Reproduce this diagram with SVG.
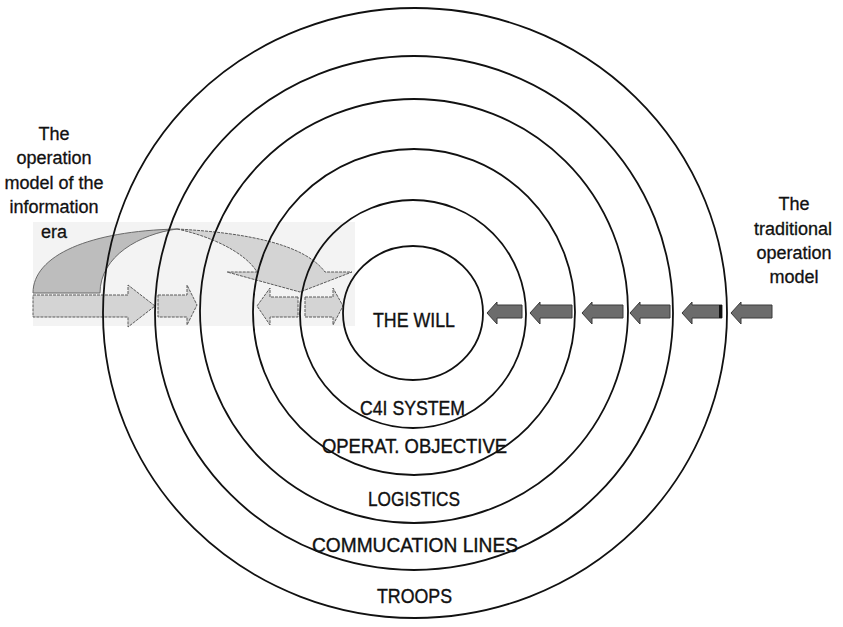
<svg xmlns="http://www.w3.org/2000/svg" width="843" height="627" viewBox="0 0 843 627">
<defs>
<style>
.ring{fill:none;stroke:#111;stroke-width:1.8}
.lbl{font-family:"Liberation Sans",Arial,sans-serif;font-size:21px;fill:#111;stroke:#111;stroke-width:0.4;text-anchor:middle}
.side{font-family:"Liberation Sans",Arial,sans-serif;font-size:18px;fill:#111;stroke:#111;stroke-width:0.3;text-anchor:middle}
.light{fill:#d4d4d4;stroke:#5a5a5a;stroke-width:1;stroke-dasharray:3 1}
.dark{fill:#6c6c6c;stroke:#3a3a3a;stroke-width:1}
.arch{fill:#bdbdbd;stroke:#6a6a6a;stroke-width:1}
</style>
</defs>
<rect width="843" height="627" fill="#fff"/>
<rect x="33" y="222" width="322" height="104" fill="#f3f3f3"/>
<g id="connectors">
<path class="arch" d="M33,293 C33,255 90,231 177,229 C140,234 100,256 100,293 Z"/>
<path class="light" d="M177,229 C250,233 305,245 325,272 L352,272 L300,292 L227,272 L257,272 C245,252 210,236 177,229 Z"/>
<path class="light" d="M33,295 L128,295 L128,285 L155,306 L128,327 L128,317 L33,317 Z"/>
<path class="light" d="M158,295 L187,295 L187,285 L197,305 L187,325 L187,317 L158,317 Z"/>
<path class="light" d="M298,297 L270,297 L270,288 L257,306 L270,325 L270,317 L298,317 Z"/>
<path class="light" d="M305,297 L333,297 L333,288 L343,306 L333,325 L333,317 L305,317 Z"/>
<path class="dark" d="M522,305 L497,305 L497,302 L487,313 L497,324 L497,318 L522,318 Z"/>
<path class="dark" d="M572,305 L540,305 L540,302 L530,313 L540,324 L540,318 L572,318 Z"/>
<path class="dark" d="M623,305 L592,305 L592,302 L582,313 L592,324 L592,318 L623,318 Z"/>
<path class="dark" d="M670,305 L640,305 L640,302 L630,313 L640,324 L640,318 L670,318 Z"/>
<path class="dark" d="M722,305 L692,305 L692,302 L682,313 L692,324 L692,318 L722,318 Z"/>
<rect x="719" y="305" width="3" height="13" fill="#111"/>
<path class="dark" d="M772,305 L741,305 L741,302 L731,313 L741,324 L741,318 L772,318 Z"/>
</g>
<g id="troops"><ellipse class="ring" cx="415" cy="313" rx="312" ry="305"/><text class="lbl" x="414.5" y="603" textLength="75" lengthAdjust="spacingAndGlyphs">TROOPS</text></g>
<g id="communication-lines"><ellipse class="ring" cx="414" cy="313" rx="259" ry="257"/><text class="lbl" x="415" y="552" textLength="206" lengthAdjust="spacingAndGlyphs">COMMUCATION LINES</text></g>
<g id="logistics"><ellipse class="ring" cx="414" cy="311" rx="214" ry="212"/><text class="lbl" x="414" y="506" textLength="92" lengthAdjust="spacingAndGlyphs">LOGISTICS</text></g>
<g id="operat-objective"><ellipse class="ring" cx="414" cy="312" rx="161" ry="163"/><text class="lbl" x="414.5" y="453" textLength="185" lengthAdjust="spacingAndGlyphs">OPERAT. OBJECTIVE</text></g>
<g id="c4i-system"><ellipse class="ring" cx="413" cy="314" rx="113" ry="114"/><text class="lbl" x="412.5" y="415" textLength="105" lengthAdjust="spacingAndGlyphs">C4I SYSTEM</text></g>
<g id="the-will"><ellipse class="ring" cx="413" cy="313" rx="70" ry="67"/><text class="lbl" x="414" y="327" textLength="82" lengthAdjust="spacingAndGlyphs">THE WILL</text></g>
<g id="info-era-label">
<text class="side" x="54" y="140">The</text>
<text class="side" x="54" y="164">operation</text>
<text class="side" x="54" y="189">model of the</text>
<text class="side" x="54" y="213">information</text>
<text class="side" x="54" y="238">era</text>
</g>
<g id="traditional-label">
<text class="side" x="794" y="210">The</text>
<text class="side" x="793" y="235">traditional</text>
<text class="side" x="794" y="259">operation</text>
<text class="side" x="794" y="283">model</text>
</g>
</svg>
